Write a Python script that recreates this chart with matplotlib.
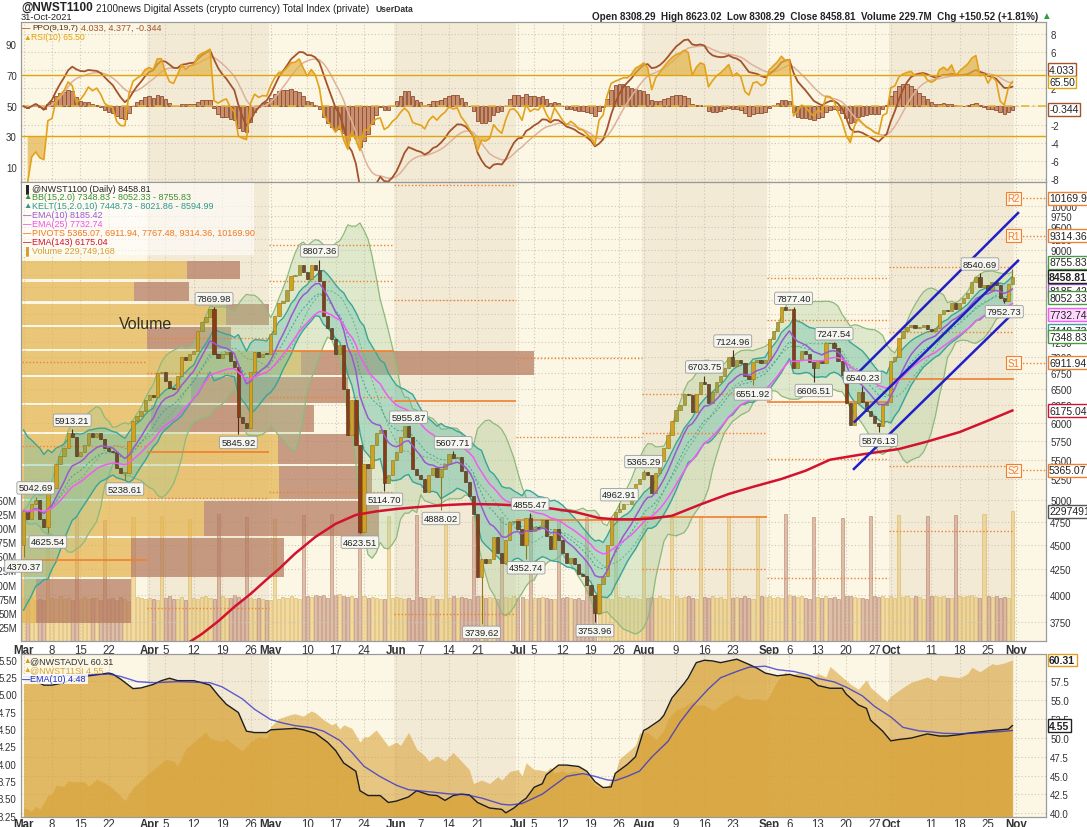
import numpy as np
import pandas as pd
import matplotlib
matplotlib.use("Agg")
import matplotlib.pyplot as plt
from matplotlib.patches import Rectangle
from matplotlib.ticker import NullLocator
from matplotlib.transforms import blended_transform_factory as blend

plt.rcParams['font.family'] = ['Liberation Sans', 'DejaVu Sans']
plt.rcParams['axes.unicode_minus'] = False

W, H = 1087, 828

# ---------------- price data, 1 Mar - 31 Oct 2021 (daily) ----------------
first_open = 4505.0
closes = [
    # Mar
    4880, 4780, 4960, 5000, 4780, 4700, 5120, 5150, 5450, 5550,
    5650, 5850, 5800, 5550, 5600, 5700, 5850, 5800, 5850, 5780,
    5660, 5620, 5600, 5400, 5330, 5330, 5742, 6018, 6100, 6170, 6337,
    # Apr
    6400, 6380, 6750, 6760, 6620, 6510, 6490, 6700, 7000, 6950,
    7060, 7100, 7450, 7600, 7700, 7850, 7045, 6990, 7050, 7090,
    6930, 6834, 6080, 5990, 5930, 6765, 7090, 7000, 7060, 7050,
    # May
    7400, 7720, 7960, 7990, 8200, 8470, 8500, 8690, 8550, 8420,
    8690, 8600, 8370, 7720, 7500, 7300, 7050, 7200, 6500, 5836,
    6337, 5700, 4642, 5448, 5400, 5700, 5860, 5900, 5206, 5300, 5490,
    # Jun
    5600, 5800, 5950, 5800, 5380, 5300, 5260, 5100, 5300, 5400,
    5275, 5380, 5450, 5568, 5520, 5540, 5350, 5225, 5050, 4835,
    4170, 4350, 4310, 4350, 4580, 4420, 4310, 4550, 4745, 4760,
    # Jul
    4670, 4505, 4800, 4650, 4700, 4680, 4770, 4600, 4460, 4670,
    4550, 4415, 4310, 4360, 4300, 4200, 4180, 4100, 4005, 3830,
    4110, 4180, 4505, 4800, 4860, 4900, 4950, 4950, 5030, 5190, 5250,
    # Aug
    5340, 5300, 5080, 5335, 5480, 5650, 5836, 6020, 6180, 6250,
    6420, 6400, 6150, 6420, 6600, 6580, 6280, 6450, 6600, 6700,
    6830, 7000, 6850, 6950, 6900, 6700, 6650, 6920, 6950, 6900, 6950,
    # Sep
    7300, 7450, 7600, 7870, 7820, 7850, 6830, 6950, 7100, 7050,
    6920, 6830, 6950, 6900, 7240, 7230, 7150, 6940, 6720, 6280,
    5975, 6280, 6450, 6300, 6170, 6100, 5990, 5950, 6260, 6300,
    # Oct
    6940, 7000, 7330, 7450, 7520, 7560, 7500, 7520, 7550, 7480,
    7450, 7500, 7750, 7830, 7800, 7950, 7850, 7950, 8050, 8150,
    8350, 8450, 8250, 8300, 8200, 8350, 8300, 8050, 7990, 8308.29, 8458.81,
]
last_high = 8623.02

# labelled swing highs / lows (day index: value)
high_marks = {3: 5042.69, 12: 5913.21, 47: 7869.98, 73: 8807.36, 95: 5955.87,
              106: 5607.71, 125: 4855.47, 147: 4962.91, 153: 5365.29, 168: 6703.75,
              175: 7124.96, 190: 7877.40, 200: 7247.54, 207: 6540.23, 236: 8540.69}
low_marks = {0: 4370.37, 6: 4625.54, 25: 5238.61, 53: 5845.92, 83: 4623.51,
             89: 5114.70, 103: 4888.02, 113: 3739.62, 124: 4352.74, 141: 3753.96,
             180: 6551.92, 195: 6606.51, 211: 5876.13, 242: 7952.73}

# daily volume (millions), week rows Mon..Sun
volume_weeks = [
    [76, 74, 78, 73, 75, 72, 218], [77, 75, 79, 74, 76, 73, 221], [75, 78, 74, 76, 77, 72, 215],
    [74, 76, 73, 78, 75, 71, 219], [78, 76, 75, 77, 74, 72, 222], [76, 79, 74, 75, 78, 73, 217],
    [77, 75, 78, 80, 76, 74, 225], [79, 77, 76, 81, 78, 75, 220], [76, 74, 77, 75, 73, 72, 216],
    [75, 78, 77, 79, 76, 74, 223], [80, 78, 81, 79, 82, 76, 226], [81, 83, 80, 78, 79, 77, 229],
    [79, 77, 78, 76, 75, 74, 221], [77, 78, 76, 75, 77, 73, 224], [78, 76, 77, 79, 75, 74, 218],
    [77, 79, 76, 78, 77, 75, 222], [80, 79, 77, 78, 76, 74, 219], [78, 77, 79, 76, 78, 75, 223],
    [77, 76, 78, 77, 75, 74, 217], [76, 78, 77, 75, 76, 73, 220], [79, 80, 78, 77, 76, 75, 224],
    [78, 77, 79, 76, 77, 74, 221], [77, 78, 76, 79, 77, 75, 218], [79, 77, 78, 80, 76, 74, 222],
    [78, 76, 79, 77, 78, 75, 219], [77, 78, 76, 79, 77, 74, 221], [79, 78, 80, 77, 78, 76, 225],
    [82, 80, 78, 79, 77, 75, 220], [78, 77, 79, 76, 78, 74, 218], [80, 79, 78, 77, 76, 75, 222],
    [79, 78, 80, 77, 79, 76, 224], [78, 79, 77, 80, 78, 75, 221], [79, 80, 78, 79, 77, 76, 223],
    [80, 78, 79, 81, 78, 76, 226], [79, 78, 80, 77, 78, 76, 229.749168],
]

# EMA(143) as drawn
ema143_days = [40, 44, 48, 52, 56, 60, 63, 67, 72, 77, 82, 87, 92, 96, 101, 105, 110, 117,
               124, 130, 136, 142, 146, 151, 155, 160, 167, 174, 180, 187, 193, 199, 207,
               216, 223, 231, 238, 244]
ema143_vals = [3560, 3650, 3760, 3890, 4010, 4150, 4253, 4410, 4586, 4730, 4830, 4870, 4898,
               4915, 4933, 4945, 4956, 4950, 4933, 4905, 4864, 4795, 4780, 4780, 4790, 4820,
               4950, 5074, 5160, 5256, 5360, 5500, 5570, 5640, 5740, 5870, 6030, 6175.04]

# monthly pivot levels (Mar..Oct)
piv_start = [0, 31, 61, 92, 122, 153, 184, 214]
piv_end = [31, 61, 92, 122, 153, 184, 214, 245]
piv_r2 = [6920, 7324, 9116, 10501, 6987, 6418, 8435, 8651]
piv_r1 = [5682, 6745, 8376, 8011, 5802, 5860, 7639, 7424]
piv_p = [4344, 5601, 7103, 6317, 4771, 4807, 6299, 6650]
piv_s1 = [3106, 5027, 6375, 3827, 3586, 4249, 5503, 5423]
piv_s2 = [1768, 3878, 5098, 2133, 2555, 3196, 4163, 4649]
nov_names = ['R2', 'R1', 'S1', 'S2']
nov_levels = [10169.90, 9314.36, 6911.94, 5365.07]

# trend channel (start day, start price, end day, end price)
channel = [(204.9, 6683, 245.4, 9828), (205.1, 6015, 245.4, 8785), (204.9, 5382, 245.4, 7854)]

# volume by price: band edges and up / down volume (billions)
vbp_edges = [3739.6, 4161.9, 4584.2, 5006.6, 5428.9, 5851.2, 6273.5, 6695.8,
             7118.1, 7540.4, 7962.7, 8385.0, 8807.4]
vbp_up = [0.15, 1.10, 1.83, 2.58, 2.57, 1.30, 1.70, 2.80, 1.26, 2.05, 1.13, 1.66]
vbp_down = [0.95, 1.53, 1.75, 0.93, 0.80, 1.63, 1.57, 2.33, 0.84, 0.43, 0.55, 0.53]

# lower panel: @NWST11SI (left) with its EMA(10), @NWSTADVL (right)
si_days = [0, 3, 5, 7, 10, 12, 15, 18, 21, 22, 24, 27, 29, 32, 34, 36, 38, 42, 44, 46, 48, 50,
           53, 55, 57, 60, 61, 64, 67, 69, 72, 75, 77, 79, 82, 83, 85, 88, 90, 92, 95, 97, 100,
           102, 104, 106, 108, 110, 112, 115, 118, 119, 121, 123, 124, 126, 128, 129, 132, 134,
           137, 139, 141, 143, 145, 146, 149, 151, 153, 154, 157, 158, 160, 163, 164, 166, 168,
           170, 172, 174, 176, 177, 179, 181, 183, 186, 189, 191, 194, 196, 199, 202, 203, 206,
           208, 209, 212, 214, 216, 219, 221, 223, 226, 228, 231, 233, 236, 239, 241, 243, 244]
si_vals = [5.21, 5.195, 5.135, 5.135, 5.17, 5.22, 5.26, 5.285, 5.31, 5.295, 5.22, 5.085, 5.095,
           5.145, 5.20, 5.235, 5.20, 5.20, 5.17, 5.135, 4.99, 4.86, 4.74, 4.47, 4.45, 4.45, 4.49,
           4.50, 4.51, 4.49, 4.44, 4.31, 4.19, 4.01, 3.89, 3.61, 3.54, 3.54, 3.44, 3.46, 3.52,
           3.61, 3.55, 3.54, 3.47, 3.54, 3.56, 3.55, 3.44, 3.36, 3.34, 3.29, 3.36, 3.46, 3.50,
           3.66, 3.71, 3.84, 3.98, 3.98, 3.96, 3.89, 3.74, 3.655, 3.665, 3.86, 3.99, 4.10, 4.48,
           4.51, 4.63, 4.70, 4.95, 5.16, 5.24, 5.46, 5.495, 5.485, 5.46, 5.485, 5.51, 5.485,
           5.435, 5.38, 5.31, 5.27, 5.29, 5.26, 5.23, 5.13, 5.09, 5.09, 5.005, 4.85, 4.80, 4.63,
           4.47, 4.33, 4.35, 4.37, 4.40, 4.43, 4.40, 4.40, 4.42, 4.44, 4.46, 4.48, 4.49, 4.50, 4.55]
si_ema_days = [0, 3, 11, 21, 24, 28, 32, 38, 46, 49, 54, 57, 61, 64, 67, 71, 74, 78, 81, 84,
               88, 92, 95, 101, 105, 109, 113, 118, 120, 123, 128, 131, 134, 138, 141, 144, 146,
               149, 152, 155, 159, 162, 165, 169, 172, 176, 179, 183, 186, 190, 193, 196, 200,
               203, 207, 210, 214, 217, 221, 224, 227, 231, 234, 238, 241, 244]
si_ema_vals = [5.26, 5.25, 5.27, 5.295, 5.26, 5.186, 5.17, 5.186, 5.17, 5.11, 4.936, 4.786,
               4.637, 4.587, 4.55, 4.52, 4.47, 4.337, 4.163, 3.963, 3.813, 3.689, 3.624, 3.589,
               3.564, 3.554, 3.504, 3.414, 3.404, 3.424, 3.56, 3.69, 3.817, 3.857, 3.817, 3.766,
               3.756, 3.817, 3.893, 4.095, 4.322, 4.60, 4.828, 5.081, 5.242, 5.333, 5.394, 5.409,
               5.359, 5.333, 5.293, 5.232, 5.182, 5.106, 4.98, 4.828, 4.676, 4.525, 4.474, 4.459,
               4.439, 4.434, 4.439, 4.454, 4.464, 4.48]
advl_days = [0, 2, 3, 4, 6, 7, 8, 10, 11, 12, 15, 16, 18, 20, 21, 23, 25, 27, 30, 32, 35, 37,
             38, 40, 42, 43, 45, 46, 49, 50, 53, 54, 56, 58, 60, 61, 63, 66, 67, 69, 71, 72, 74,
             76, 77, 78, 79, 81, 83, 84, 85, 87, 88, 90, 92, 93, 95, 97, 99, 100, 102, 104, 106,
             108, 110, 111, 113, 115, 117, 118, 120, 122, 123, 124, 126, 127, 129, 130, 131, 133,
             134, 136, 139, 141, 143, 144, 146, 147, 149, 151, 152, 154, 156, 158, 159, 161, 163,
             165, 166, 168, 170, 171, 172, 174, 176, 177, 179, 181, 183, 184, 186, 188, 189, 191,
             193, 195, 196, 198, 199, 201, 202, 204, 206, 208, 209, 211, 213, 214, 216, 219, 221,
             223, 225, 226, 228, 231, 233, 234, 236, 239, 240, 242, 244]
advl_vals = [40.75, 40.3, 40.98, 40.53, 42.36, 42.58, 43.73, 43.59, 44.32, 44.19, 44.19, 43.59,
             44.5, 44.05, 43.73, 42.81, 41.67, 43.41, 44.87, 45.79, 47.16, 46.93, 46.24, 48.53,
             49.44, 49.9, 50.81, 49.9, 49.53, 49.9, 48.62, 48.3, 49.44, 50.13, 49.9, 51.5, 52.55,
             53.1, 53.19, 52.87, 53.56, 53.33, 52.41, 51.73, 51.96, 51.18, 51.73, 51.27, 49.44,
             50.13, 50.13, 51.04, 50.36, 48.9, 49.44, 48.99, 50.72, 48.53, 47.61, 46.93, 47.61,
             46.93, 48.07, 46.93, 45.79, 43.96, 44.41, 43.96, 44.87, 44.41, 45.56, 45.79, 44.96,
             46.7, 45.79, 45.79, 45.56, 46.11, 45.33, 45.65, 45.33, 45.65, 45.0, 43.71, 43.24,
             43.47, 45.33, 47.18, 48.1, 49.03, 50.65, 50.74, 49.72, 51.02, 52.5, 53.66, 54.12,
             54.91, 54.35, 54.35, 53.66, 53.89, 54.45, 55.05, 55.74, 55.37, 55.05, 55.19, 54.91,
             55.51, 57.59, 58.75, 58.15, 58.61, 58.43, 58.06, 58.52, 58.06, 59.45, 58.52, 58.06,
             57.13, 56.44, 57.69, 56.67, 55.74, 54.82, 55.51, 56.3, 57.36, 57.69, 58.06, 57.59,
             58.29, 58.15, 57.96, 58.52, 59.35, 58.75, 59.82, 59.68, 59.91, 60.31]

# ---------------- derived series ----------------
n = len(closes)
days = np.arange(n)
dates = pd.date_range('2021-03-01', periods=n, freq='D')
c = np.array(closes, float)
o = np.r_[first_open, c[:-1]]
hi = np.maximum(o, c)
lo = np.minimum(o, c)
for d, v in high_marks.items():
    hi[d] = max(hi[d], v)
for d, v in low_marks.items():
    lo[d] = min(lo[d], v)
hi[-1] = max(hi[-1], last_high)
vol = np.array(volume_weeks, float).ravel()[:n]

s = pd.Series(c)
def ema(k):
    return s.ewm(span=k, adjust=False).mean()
ema10, ema25, ema15 = ema(10), ema(25), ema(15)
sma15 = s.rolling(15, min_periods=1).mean()
sd15 = s.rolling(15, min_periods=1).std(ddof=0)
bb_up, bb_lo = sma15 + 2 * sd15, sma15 - 2 * sd15
prev = pd.Series(o)
tr = pd.concat([pd.Series(hi - lo), (pd.Series(hi) - prev).abs(),
                (pd.Series(lo) - prev).abs()], axis=1).max(axis=1)
atr = tr.ewm(alpha=0.1, adjust=False).mean()
kc_up, kc_lo = ema15 + 2 * atr, ema15 - 2 * atr
ppo = (ema(9) - ema(19)) / ema(19) * 100
sig = ppo.ewm(span=7, adjust=False).mean()
hist = ppo - sig
dlt = s.diff()
gain = dlt.clip(lower=0).ewm(alpha=0.1, adjust=False).mean()
loss = (-dlt.clip(upper=0)).ewm(alpha=0.1, adjust=False).mean()
rsi = 100 - 100 / (1 + gain / loss)

# ---------------- figure / panels ----------------
fig = plt.figure(figsize=(W / 100, H / 100), dpi=100)
renderer = fig.canvas.get_renderer()
X0, X1 = 21, 1046
XL = (-0.64, 252.3)

def rect(top, bot):
    return [X0 / W, 1 - bot / H, (X1 - X0) / W, (bot - top) / H]

ax_ppo = fig.add_axes(rect(23, 183), zorder=1)
ax_rsi = fig.add_axes(rect(23, 183), sharex=ax_ppo, zorder=2)
ax_vol = fig.add_axes(rect(183, 642), sharex=ax_ppo, zorder=1)
ax_px = fig.add_axes(rect(183, 642), sharex=ax_ppo, zorder=2)
ax_adv = fig.add_axes(rect(655, 818), sharex=ax_ppo, zorder=1)
ax_si = fig.add_axes(rect(655, 818), sharex=ax_ppo, zorder=2)

shade = [(31, 61), (92, 122), (153, 184), (214, 245)]
grid_kw = dict(color='#CEC8B8', ls=(0, (1, 2)), lw=0.8)
for ax in (ax_ppo, ax_vol, ax_adv):
    ax.set_facecolor('#FCF6E4')
    for a, b in shade:
        ax.axvspan(a - 0.5, b - 0.5, color='#F3EAD6', lw=0, zorder=0)
    ax.set_axisbelow(True)
    ax.grid(axis='x', **grid_kw)
for ax in (ax_rsi, ax_px, ax_si):
    ax.patch.set_visible(False)
for ax in (ax_ppo, ax_rsi, ax_vol, ax_px, ax_adv, ax_si):
    ax.set_xlim(*XL)
    for sp in ax.spines.values():
        sp.set_color('#9A9A9A')
        sp.set_linewidth(0.8)
    ax.tick_params(axis='both', labelsize=7, colors='#333333', length=0, pad=3)
    ax.tick_params(axis='x', labelbottom=False)

# x ticks: month starts + Mondays
month_starts = [i for i in range(n + 1) if (dates[0] + pd.Timedelta(days=i)).day == 1]
tick_pos, tick_lab, tick_bold = [], [], []
for i in range(n + 1):
    dt = dates[0] + pd.Timedelta(days=i)
    if dt.day == 1:
        tick_pos.append(i); tick_lab.append(dt.strftime('%b')); tick_bold.append(True)
    elif dt.dayofweek == 0 and min(abs(i - m) for m in month_starts) > 3:
        tick_pos.append(i); tick_lab.append(str(dt.day)); tick_bold.append(False)
ax_ppo.set_xticks(tick_pos)
for ax in (ax_vol, ax_adv):
    tr_x = blend(ax.transData, ax.transAxes)
    for p, t, b in zip(tick_pos, tick_lab, tick_bold):
        ax.text(p, -0.006, t, transform=tr_x, ha='center', va='top', fontsize=8.3,
                fontweight='bold' if b else 'normal', color='#333333', clip_on=False)

def tag(ax, y, text, ec, fc='white', weight='normal', ytrans=None, size=7.5):
    tr_t = blend(ax.transAxes, (ytrans or ax).transData)
    ax.text(1.003, y, text, transform=tr_t, ha='left', va='center', fontsize=size,
            fontweight=weight, color='#222222', clip_on=False, zorder=30,
            bbox=dict(boxstyle='square,pad=0.14', fc=fc, ec=ec, lw=1.0))

def ftext(x, y, txt, width=None, **kw):
    t = fig.text(x / W, 1 - y / H, txt, va='center', ha=kw.pop('ha', 'left'), zorder=40, **kw)
    if width:
        w = t.get_window_extent(renderer).width
        t.set_fontsize(t.get_fontsize() * width / w)
    return t

# ---------------- top panel: PPO + RSI ----------------
ax_ppo.set_ylim(-8.32, 9.27)
ax_ppo.yaxis.tick_right()
ax_ppo.set_yticks(range(-8, 9, 2))
ax_ppo.grid(axis='y', **grid_kw)
ax_ppo.bar(days, hist, width=0.85, color='#C98E6E', edgecolor='#8F4F2F', lw=0.6, zorder=2)
ax_ppo.axhline(0, color='#E6B53A', lw=1.2, ls=(0, (5, 2, 1, 2)), zorder=3)
ax_ppo.plot(days, sig, color='#DDB29C', lw=1.1, zorder=4)
ax_ppo.plot(days, ppo, color='#A5532B', lw=1.3, zorder=5)

ax_rsi.set_ylim(0.33, 104.6)
ax_rsi.set_yticks([10, 30, 50, 70, 90])
ax_rsi.axhline(70, color='#E2A40C', lw=1.0)
ax_rsi.axhline(30, color='#E2A40C', lw=1.0)
ax_rsi.fill_between(days, rsi, 70, where=rsi > 70, interpolate=True, color='#E2B040',
                    alpha=0.65, lw=0)
ax_rsi.fill_between(days, rsi, 30, where=rsi < 30, interpolate=True, color='#E2B040',
                    alpha=0.65, lw=0)
ax_rsi.plot(days, rsi, color='#E3A21A', lw=1.2)

tag(ax_ppo, 4.033, '4.033', '#A5532B')
tag(ax_ppo, -0.344, '-0.344', '#A5532B')
tag(ax_rsi, 65.50, '65.50', '#E2A40C')

# ---------------- main panel ----------------
ax_vol.set_ylim(0, 813.8)
vt = list(range(25, 251, 25))
ax_vol.set_yticks(vt)
ax_vol.set_yticklabels([f'{v}M' for v in vt])
up = c >= o
ax_vol.bar(days, vol, width=0.75, color=np.where(up, '#E9C66E', '#C8907A'),
           edgecolor=np.where(up, '#D2A845', '#A86E58'), lw=0.6, alpha=0.55, zorder=2)

ax_px.set_yscale('log')
ax_px.set_ylim(3590, 10572)
pt = list(range(3750, 10001, 250))
ax_px.set_yticks(pt)
ax_px.set_yticklabels([str(v) for v in pt])
ax_px.yaxis.set_minor_locator(NullLocator())
ax_px.yaxis.tick_right()
ax_px.set_axisbelow(True)
ax_px.grid(axis='y', **grid_kw)

# volume by price
ytr = ax_px.get_yaxis_transform()
vbp_scale = 100 / (X1 - X0)
for k in range(len(vbp_up)):
    b0, b1 = vbp_edges[k] * 1.0025, vbp_edges[k + 1] / 1.0025
    wu, wd = vbp_up[k] * vbp_scale, vbp_down[k] * vbp_scale
    ax_px.add_patch(Rectangle((0, b0), wu, b1 - b0, transform=ytr, fc='#E4B450',
                              alpha=0.72, lw=0, zorder=1.5))
    ax_px.add_patch(Rectangle((wu, b0), wd, b1 - b0, transform=ytr, fc='#B47A5E',
                              alpha=0.72, lw=0, zorder=1.5))
fig.text(146 / W, 1 - 325 / H, 'Volume', fontsize=11.5, color='#33331F', ha='center',
         va='center', zorder=5)

# bands
ax_px.fill_between(days, bb_lo, bb_up, color='#A4CC94', alpha=0.32, lw=0, zorder=3)
ax_px.plot(days, bb_up, color='#8DBA7C', lw=0.9, zorder=3.1)
ax_px.plot(days, bb_lo, color='#8DBA7C', lw=0.9, zorder=3.1)
ax_px.plot(days, sma15, color='#6FA860', lw=0.7, ls=(0, (2, 2)), zorder=3.1)
ax_px.fill_between(days, kc_lo, kc_up, color='#5DBFAF', alpha=0.35, lw=0, zorder=3.2)
ax_px.plot(days, kc_up, color='#3AA596', lw=1.0, zorder=3.3)
ax_px.plot(days, kc_lo, color='#3AA596', lw=1.0, zorder=3.3)
ax_px.plot(days, ema15, color='#3AA596', lw=0.7, ls=(0, (2, 2)), zorder=3.3)

# pivots
for k in range(len(piv_start)):
    a, b = piv_start[k] - 0.5, piv_end[k] - 0.5
    for lvl in (piv_r2[k], piv_r1[k], piv_s1[k], piv_s2[k]):
        ax_px.hlines(lvl, a, b, colors='#F08030', lw=1.0, ls=(0, (1, 1.5)), zorder=4)
    ax_px.hlines(piv_p[k], a, b, colors='#F08030', lw=1.2, zorder=4)
for name, lvl in zip(nov_names, nov_levels):
    ax_px.hlines(lvl, 245.6, XL[1], colors='#F08030', lw=1.0, ls=(0, (1, 1.5)), zorder=4)
    ax_px.text(244.3, lvl, name, ha='center', va='center', fontsize=7, color='#F08030',
               zorder=9, bbox=dict(boxstyle='square,pad=0.15', fc='#FFF6EA', ec='#F08030', lw=0.8))

# candles
chg = (c - o) / o
body_col = np.where(c >= o, np.where(chg > 0.03, '#D4A11E', '#A9A23A'),
                    np.where(chg < -0.05, '#8E3A14', '#6E4C2C'))
edge_col = np.where(c >= o, '#8C7A20', '#4A3018')
ax_px.vlines(days, lo, hi, colors=edge_col, lw=0.8, zorder=5)
body_h = np.maximum(np.abs(c - o), c * 0.002)
ax_px.bar(days, body_h, bottom=np.minimum(o, c), width=0.8, color=body_col,
          edgecolor=edge_col, lw=0.4, zorder=6)

# moving averages and channel
ax_px.plot(days, ema10, color='#9B59D0', lw=1.1, zorder=7)
ax_px.plot(days, ema25, color='#F25CF0', lw=1.1, zorder=7)
ax_px.plot(ema143_days, ema143_vals, color='#D2122E', lw=1.8, zorder=7)
for d0, p0, d1, p1 in channel:
    ax_px.plot([d0, d1], [p0, p1], color='#2020C8', lw=1.8, zorder=8)

# swing labels
lab_box = dict(boxstyle='round,pad=0.18', fc='#F6F6F1', ec='#9A9A9A', lw=0.6)
for d, v in high_marks.items():
    ax_px.annotate(f'{v:.2f}', xy=(d, v), xytext=(0, 3), textcoords='offset points',
                   ha='center', va='bottom', fontsize=6.8, color='#222222', bbox=lab_box, zorder=12)
for d, v in low_marks.items():
    ax_px.annotate(f'{v:.2f}', xy=(d, v), xytext=(0, -3), textcoords='offset points',
                   ha='center', va='top', fontsize=6.8, color='#222222', bbox=lab_box, zorder=12)

# right-side value tags
for val, txt, ec, fc, wt in [
        (10169.90, '10169.90', '#F08030', 'white', 'normal'),
        (9314.36, '9314.36', '#F08030', 'white', 'normal'),
        (8594.99, '8594.99', '#3AA596', 'white', 'normal'),
        (8755.83, '8755.83', '#4A9A40', 'white', 'normal'),
        (8185.42, '8185.42', '#9B59D0', 'white', 'normal'),
        (8052.33, '8052.33', '#4A9A40', 'white', 'normal'),
        (8458.81, '8458.81', '#222222', 'white', 'bold'),
        (7448.73, '7448.73', '#3AA596', 'white', 'normal'),
        (7348.83, '7348.83', '#4A9A40', 'white', 'normal'),
        (7732.74, '7732.74', '#F25CF0', '#FFD8FF', 'normal'),
        (6911.94, '6911.94', '#F08030', 'white', 'normal'),
        (6175.04, '6175.04', '#D2122E', 'white', 'normal'),
        (5365.07, '5365.07', '#F08030', 'white', 'normal')]:
    tag(ax_px, val, txt, ec, fc, wt)
tag(ax_px, 229.749168, '229749168', '#555555', ytrans=ax_vol)

# ---------------- bottom panel ----------------
ax_adv.set_ylim(39.52, 61.10)
ax_adv.yaxis.tick_right()
at = [40 + 2.5 * k for k in range(8)]
ax_adv.set_yticks(at)
ax_adv.set_yticklabels([f'{v:.1f}' for v in at])
ax_adv.grid(axis='y', **grid_kw)
ax_adv.fill_between(advl_days, advl_vals, 30, color='#D7A032', alpha=0.55, lw=0, zorder=2)

ax_si.set_ylim(3.23, 5.585)
st = [3.25 + 0.25 * k for k in range(10)]
ax_si.set_yticks(st)
ax_si.set_yticklabels([f'{v:.2f}' for v in st])
ax_si.fill_between(si_days, si_vals, 3.0, color='#D7A032', alpha=0.72, lw=0, zorder=2)
ax_si.plot(si_days, si_vals, color='#1E1E1E', lw=1.0, zorder=3)
ax_si.plot(si_ema_days, si_ema_vals, color='#2B2BD0', lw=1.0, alpha=0.75, zorder=4)
tag(ax_adv, 60.31, '60.31', '#E0A020', weight='bold')
tag(ax_si, 4.55, '4.55', '#222222', weight='bold')

# ---------------- legends & header ----------------
ftext(21, 8, '@NWST1100', width=71, fontsize=10, fontweight='bold', color='#222222')
ftext(96, 8.5, '2100news Digital Assets (crypto currency) Total Index (private)', width=274,
      fontsize=9, color='#222222')
ftext(376, 9.5, 'UserData', width=38, fontsize=7, fontweight='bold', color='#333333')
ftext(21, 17.5, '31-Oct-2021', width=52, fontsize=8, color='#222222')
ftext(1038, 17, 'Open 8308.29  High 8623.02  Low 8308.29  Close 8458.81  Volume 229.7M  '
      'Chg +150.52 (+1.81%)', width=448, fontsize=8, fontweight='bold', color='#222222',
      ha='right')
ftext(1041, 16, '\u25b2', fontsize=7, color='#2E9E3E')

ftext(22, 28.6, '\u2014', fontsize=6, color='#A5532B', fontweight='bold')
ftext(32, 28.6, 'PPO(9,19,7)', width=46, fontsize=7, color='#4A2A18')
ftext(81, 28.6, '4.033, 4.377, -0.344', width=80, fontsize=7, color='#A5532B')
ftext(23, 38, '\u25b2', fontsize=5.5, color='#E2A40C')
ftext(31, 38, 'RSI(10) 65.50', width=54, fontsize=7, color='#E2A40C')

fig.patches.append(Rectangle((22 / W, 1 - 256 / H), 232 / W, 72 / H, transform=fig.transFigure,
                             fc='white', alpha=0.6, lw=0, zorder=35))
legend_lines = [
    ('@NWST1100 (Daily) 8458.81', '#222222'),
    ('BB(15,2.0) 7348.83 - 8052.33 - 8755.83', '#3E8E30'),
    ('KELT(15,2.0,10) 7448.73 - 8021.86 - 8594.99', '#2E9A8C'),
    ('EMA(10) 8185.42', '#9B59D0'),
    ('EMA(25) 7732.74', '#F050F0'),
    ('PIVOTS 5365.07, 6911.94, 7767.48, 9314.36, 10169.90', '#F07820'),
    ('EMA(143) 6175.04', '#D2122E'),
    ('Volume 229,749,168', '#D4A030'),
]
icons = ['\u2590', '\u25b2', '\u25b2', '\u2014', '\u2014', '\u2014', '\u2014', '\u2590']
probe = ftext(32, 0, legend_lines[5][0], width=222, fontsize=7)
leg_size = probe.get_fontsize()
probe.remove()
for k, ((txt, col), ic) in enumerate(zip(legend_lines, icons)):
    y = 189 + 8.9 * k
    ftext(23, y, ic, fontsize=6, color=col, fontweight='bold')
    ftext(32, y, txt, fontsize=leg_size, color=col)

fig.patches.append(Rectangle((22 / W, 1 - 685 / H), 66 / W, 10 / H, transform=fig.transFigure,
                             fc='white', alpha=0.85, lw=0, zorder=35))
ftext(23, 661.3, '\u25b2', fontsize=5.5, color='#C99A2A')
ftext(30, 661.3, '@NWSTADVL 60.31', fontsize=leg_size, color='#333333')
ftext(23, 671, '\u25b2', fontsize=5.5, color='#D9A630')
ftext(30, 671, '@NWST11SI 4.55', fontsize=leg_size, color='#D9A630')
ftext(22, 680, '\u2014', fontsize=6, color='#2030C8', fontweight='bold')
ftext(30, 680, 'EMA(10) 4.48', fontsize=leg_size, color='#2030C8')

fig.savefig('out.png', dpi=100, facecolor='white')
